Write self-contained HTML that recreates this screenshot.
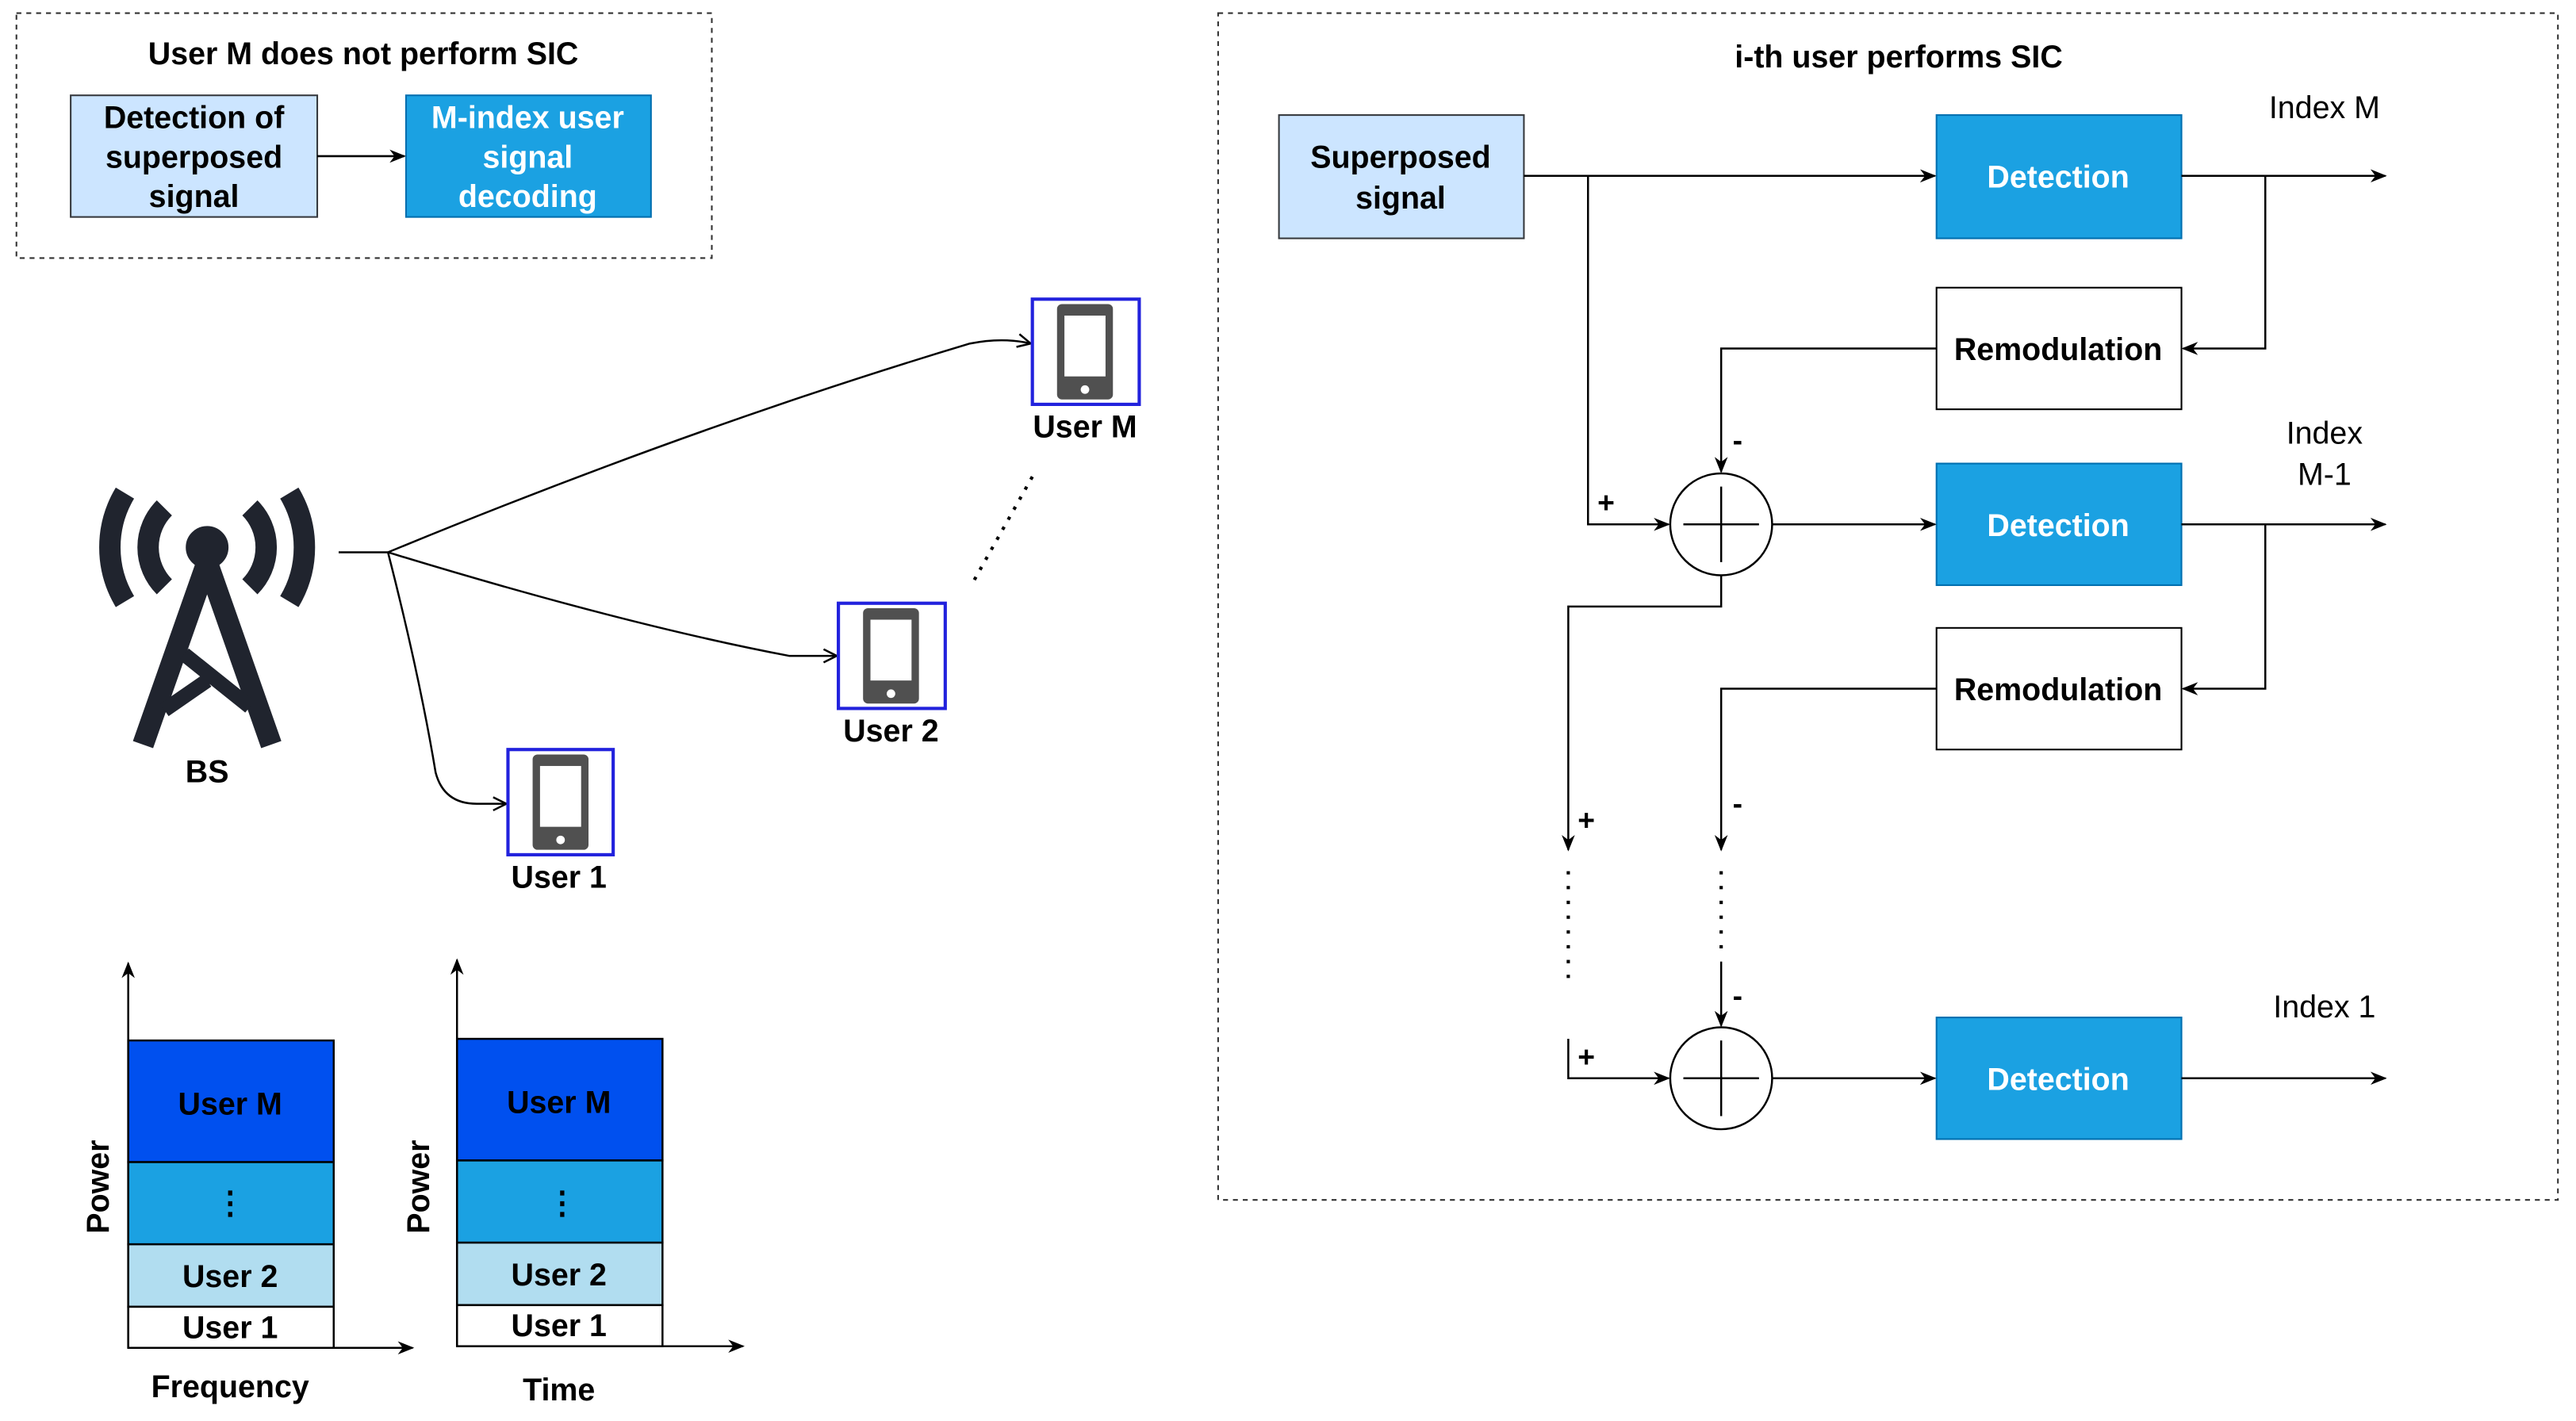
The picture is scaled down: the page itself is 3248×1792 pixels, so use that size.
<!DOCTYPE html>
<html><head><meta charset="utf-8"><style>
html,body{margin:0;padding:0;background:#fff;}
svg{display:block;}
text{font-family:"Liberation Sans",sans-serif;}
</style></head><body>
<svg width="3248" height="1792" viewBox="0 0 1567 864.5" preserveAspectRatio="none" xmlns="http://www.w3.org/2000/svg">
<defs>
<marker id="a" markerWidth="10" markerHeight="10" refX="9" refY="5" orient="auto" markerUnits="userSpaceOnUse"><path d="M0,1 L10,5 L0,9 L3,5 Z" fill="#000"/></marker>
<marker id="o" markerWidth="10" markerHeight="10" refX="9" refY="5" orient="auto" markerUnits="userSpaceOnUse"><path d="M1,1 L9,5 L1,9" fill="none" stroke="#000" stroke-width="1.2"/></marker>
<g id="ph"><rect x="-17" y="-29" width="34" height="58" rx="3" fill="#505050"/><rect x="-12.5" y="-22" width="25" height="37" fill="#fff"/><circle cx="0" cy="23" r="2.6" fill="#fff"/></g>
</defs>
<g font-weight="bold" font-size="19" text-anchor="middle">
<rect x="10" y="8" width="423" height="149" fill="none" stroke="#333" stroke-dasharray="3,3"/>
<text x="221" y="39">User M does not perform SIC</text>
<rect x="43" y="58" width="150" height="74" fill="#cce5ff" stroke="#36393d"/>
<text x="118" y="78">Detection of</text><text x="118" y="102">superposed</text><text x="118" y="126">signal</text>
<rect x="247" y="58" width="149" height="74" fill="#1ba1e2" stroke="#006eaf"/>
<text x="321" y="78" fill="#fff">M-index user</text><text x="321" y="102" fill="#fff">signal</text><text x="321" y="126" fill="#fff">decoding</text>
<line x1="193" y1="95" x2="246" y2="95" stroke="#000" stroke-width="1.3" marker-end="url(#a)"/>

<rect x="741" y="8" width="815" height="722" fill="none" stroke="#333" stroke-dasharray="3,3"/>
<text x="1155" y="41">i-th user performs SIC</text>
<rect x="778" y="70" width="149" height="75" fill="#cce5ff" stroke="#36393d"/>
<text x="852" y="102">Superposed</text><text x="852" y="127">signal</text>
<g fill="#1ba1e2" stroke="#006eaf">
<rect x="1178" y="70" width="149" height="75"/><rect x="1178" y="282" width="149" height="74"/><rect x="1178" y="619" width="149" height="74"/></g>
<text x="1252" y="114" fill="#fff">Detection</text><text x="1252" y="326" fill="#fff">Detection</text><text x="1252" y="663" fill="#fff">Detection</text>
<rect x="1178" y="175" width="149" height="74" fill="#fff" stroke="#000"/><text x="1252" y="219">Remodulation</text>
<rect x="1178" y="382" width="149" height="74" fill="#fff" stroke="#000"/><text x="1252" y="426">Remodulation</text>
<g fill="#fff" stroke="#000" stroke-width="1.2"><circle cx="1047" cy="319" r="31"/><circle cx="1047" cy="656" r="31"/></g>
<g stroke="#000" stroke-width="1.2"><line x1="1047" y1="296" x2="1047" y2="342"/><line x1="1024" y1="319" x2="1070" y2="319"/><line x1="1047" y1="633" x2="1047" y2="679"/><line x1="1024" y1="656" x2="1070" y2="656"/></g>
<g fill="none" stroke="#000" stroke-width="1.2" marker-end="url(#a)">
<path d="M927,107 H1177"/><path d="M1327,107 H1451"/><path d="M1378,107 V212 H1328"/>
<path d="M1178,212 H1047 V287"/><path d="M966,107 V319 H1015"/>
<path d="M1078,319 H1177"/><path d="M1327,319 H1451"/><path d="M1378,319 V419 H1328"/>
<path d="M1178,419 H1047 V517"/><path d="M1047,350 V369 H954 V517"/>
<path d="M1047,585 V624"/><path d="M954,632 V656 H1015"/>
<path d="M1078,656 H1177"/><path d="M1327,656 H1451"/>
</g>
<g stroke="#000" stroke-width="2" stroke-dasharray="2,7"><line x1="954" y1="530" x2="954" y2="598"/><line x1="1047" y1="530" x2="1047" y2="582"/></g>
<g font-size="18"><text x="1057" y="274">-</text><text x="977" y="312">+</text><text x="1057" y="495">-</text><text x="965" y="505">+</text><text x="1057" y="612">-</text><text x="965" y="649">+</text></g>
<g font-weight="normal" font-size="19"><text x="1414" y="72">Index M</text><text x="1414" y="270">Index</text><text x="1414" y="295">M-1</text><text x="1414" y="619">Index 1</text></g>

<g fill="none" stroke="#20242e" stroke-width="13">
<circle cx="126" cy="333" r="6.5" fill="#20242e" stroke-width="13"/>
<path d="M126,342 L87,453 M126,342 L165,453" stroke-width="13"/>
<path d="M112,398 L152,430 M100,432 L126,414" stroke-width="9"/>
<path d="M100,309 A34,34 0 0 0 100,357"/><path d="M152,309 A34,34 0 0 1 152,357"/>
<path d="M76,300 A64,64 0 0 0 76,366"/><path d="M176,300 A64,64 0 0 1 176,366"/>
</g>
<text x="126" y="476">BS</text>

<g fill="none" stroke="#000" stroke-width="1.2">
<path d="M206,336 H236"/>
<path d="M236,336 Q420,260 590,209 Q610,205 627,209" marker-end="url(#o)"/>
<path d="M236,336 Q380,380 480,399 H509" marker-end="url(#o)"/>
<path d="M236,336 Q255,410 265,470 Q270,489 290,489 H308" marker-end="url(#o)"/>
</g>
<line x1="628" y1="290" x2="592" y2="354" stroke="#000" stroke-width="2" stroke-dasharray="2,5"/>
<g fill="#fff" stroke="#2222dd" stroke-width="2"><rect x="628" y="182" width="65" height="64"/><rect x="510" y="367" width="65" height="64"/><rect x="309" y="456" width="64" height="64"/></g>
<use href="#ph" x="660" y="214"/><use href="#ph" x="542" y="399"/><use href="#ph" x="341" y="488"/>
<text x="660" y="266">User M</text><text x="542" y="451">User 2</text><text x="340" y="540">User 1</text>

<g stroke="#000" stroke-width="1.2">
<rect x="78" y="633" width="125" height="74" fill="#0050ef"/><rect x="78" y="707" width="125" height="50" fill="#1ba1e2"/><rect x="78" y="757" width="125" height="38" fill="#b1ddf0"/><rect x="78" y="795" width="125" height="25" fill="#fff"/>
<rect x="278" y="632" width="125" height="74" fill="#0050ef"/><rect x="278" y="706" width="125" height="50" fill="#1ba1e2"/><rect x="278" y="756" width="125" height="38" fill="#b1ddf0"/><rect x="278" y="794" width="125" height="25" fill="#fff"/>
<line x1="78" y1="820" x2="78" y2="586" marker-end="url(#a)"/><line x1="78" y1="820" x2="251" y2="820" marker-end="url(#a)"/>
<line x1="278" y1="819" x2="278" y2="584" marker-end="url(#a)"/><line x1="278" y1="819" x2="452" y2="819" marker-end="url(#a)"/>
</g>
<text x="140" y="678">User M</text><text x="140" y="738">⋮</text><text x="140" y="783">User 2</text><text x="140" y="814">User 1</text>
<text x="340" y="677">User M</text><text x="342" y="738">⋮</text><text x="340" y="782">User 2</text><text x="340" y="813">User 1</text>
<text x="140" y="850">Frequency</text><text x="340" y="852">Time</text>
<text transform="translate(66,722) rotate(-90)">Power</text>
<text transform="translate(261,722) rotate(-90)">Power</text>
</g>
</svg>
</body></html>
